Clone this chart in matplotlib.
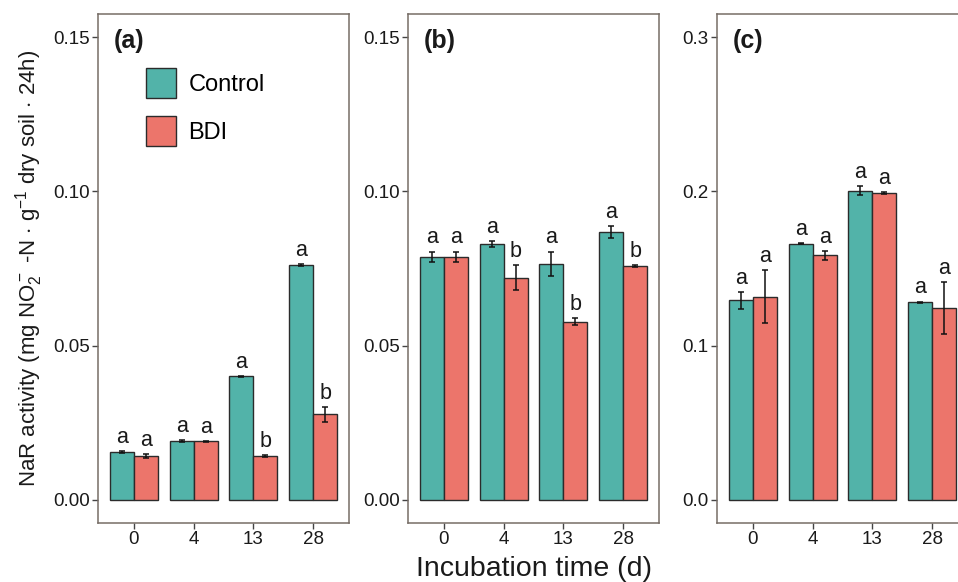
import numpy as np
import matplotlib
matplotlib.use("Agg")
import matplotlib.pyplot as plt
from matplotlib.patches import Patch

days = ["0", "4", "13", "28"]

# panel (a)
a_ctrl = [0.0155, 0.0190, 0.0400, 0.0761]
a_ctrl_se = [0.0003, 0.0003, 0.0001, 0.0002]
a_bdi = [0.0142, 0.0190, 0.0142, 0.0277]
a_bdi_se = [0.0007, 0.0001, 0.0002, 0.0023]
a_ctrl_let = ["a", "a", "a", "a"]
a_bdi_let = ["a", "a", "b", "b"]

# panel (b)
b_ctrl = [0.0788, 0.0830, 0.0766, 0.0869]
b_ctrl_se = [0.0017, 0.0009, 0.0039, 0.0019]
b_bdi = [0.0788, 0.0720, 0.0578, 0.0757]
b_bdi_se = [0.0017, 0.0040, 0.0010, 0.0003]
b_ctrl_let = ["a", "a", "a", "a"]
b_bdi_let = ["a", "b", "b", "b"]

# panel (c)
c_ctrl = [0.1294, 0.1661, 0.2005, 0.1280]
c_ctrl_se = [0.0054, 0.0002, 0.0027, 0.0006]
c_bdi = [0.1318, 0.1586, 0.1988, 0.1245]
c_bdi_se = [0.0173, 0.0028, 0.0008, 0.0168]
c_ctrl_let = ["a", "a", "a", "a"]
c_bdi_let = ["a", "a", "a", "a"]

C_CTRL = "#52b3a9"
C_BDI = "#ec756b"
EDGE = "#2b2b2b"
FRAME = "#766d66"

plt.rcParams.update({
    "font.family": ["Liberation Sans", "DejaVu Sans"],
    "mathtext.fontset": "custom",
    "mathtext.rm": "Liberation Sans",
    "mathtext.it": "Liberation Sans:italic",
    "mathtext.bf": "Liberation Sans:bold",
})

W, H = 958, 582
fig = plt.figure(figsize=(W / 100, H / 100), dpi=100)

top, bot = 14, 523
lefts = [98, 408, 717]
pw = 251

panels = [
    ("(a)", a_ctrl, a_ctrl_se, a_bdi, a_bdi_se, a_ctrl_let, a_bdi_let, 0.15,
     [0, 0.05, 0.10, 0.15], ["0.00", "0.05", "0.10", "0.15"]),
    ("(b)", b_ctrl, b_ctrl_se, b_bdi, b_bdi_se, b_ctrl_let, b_bdi_let, 0.15,
     [0, 0.05, 0.10, 0.15], ["0.00", "0.05", "0.10", "0.15"]),
    ("(c)", c_ctrl, c_ctrl_se, c_bdi, c_bdi_se, c_ctrl_let, c_bdi_let, 0.3,
     [0, 0.1, 0.2, 0.3], ["0.0", "0.1", "0.2", "0.3"]),
]

x = np.arange(1, len(days) + 1)
bw = 0.4
axes = []
for (tag, ctrl, cse, bdi, bse, clet, blet, ymax, yt, ytl), lx in zip(panels, lefts):
    ax = fig.add_axes([lx / W, 1 - bot / H, pw / W, (bot - top) / H])
    axes.append(ax)
    for xs, vals, se, col, lets in ((x - bw / 2, ctrl, cse, C_CTRL, clet),
                                    (x + bw / 2, bdi, bse, C_BDI, blet)):
        ax.bar(xs, vals, width=bw, color=col, edgecolor=EDGE, linewidth=1.0, zorder=2)
        ax.errorbar(xs, vals, yerr=se, fmt="none", ecolor="#111111", elinewidth=1.1,
                    capsize=2.3, capthick=1.1, zorder=3)
        for xi, v, s, l in zip(xs, vals, se, lets):
            ax.annotate(l, (xi, v + s), xytext=(0, 6), textcoords="offset points",
                        ha="center", va="baseline", fontsize=15.5, color="#1a1a1a")
    ax.set_xlim(0.4, 4.6)
    ax.set_ylim(-0.05 * ymax, 1.05 * ymax)
    ax.set_xticks(x)
    ax.set_xticklabels(days)
    ax.set_yticks(yt)
    ax.set_yticklabels(ytl)
    ax.tick_params(direction="out", length=4, width=1.0, color="#444444",
                   labelsize=13.5, labelcolor="#1a1a1a", pad=2)
    for sp in ax.spines.values():
        sp.set_color(FRAME)
        sp.set_linewidth(1.1)
    ax.text(0.064, 0.947, tag, transform=ax.transAxes, fontsize=18, fontweight="bold",
            ha="left", va="center", color="#1a1a1a")

axes[0].legend(handles=[Patch(facecolor=C_CTRL, edgecolor=EDGE, lw=1.0, label="Control"),
                        Patch(facecolor=C_BDI, edgecolor=EDGE, lw=1.0, label="BDI")],
               loc="upper left", bbox_to_anchor=((146 - 98) / pw, (bot - 68) / (bot - top)),
               frameon=False, fontsize=17, handlelength=1.25, handleheight=1.55,
               labelspacing=0.78, handletextpad=0.55, borderpad=0, borderaxespad=0)

axes[0].set_ylabel(r"NaR activity (mg NO$_2^-$ -N $\cdot$ g$^{-1}$ dry soil $\cdot$ 24h)",
                   fontsize=16, color="#1a1a1a", labelpad=6)
fig.text(533.5 / W, 1 - 569 / H, "Incubation time (d)", ha="center", va="center",
         fontsize=20.5, color="#1a1a1a")

fig.savefig("out.png", dpi=100)
